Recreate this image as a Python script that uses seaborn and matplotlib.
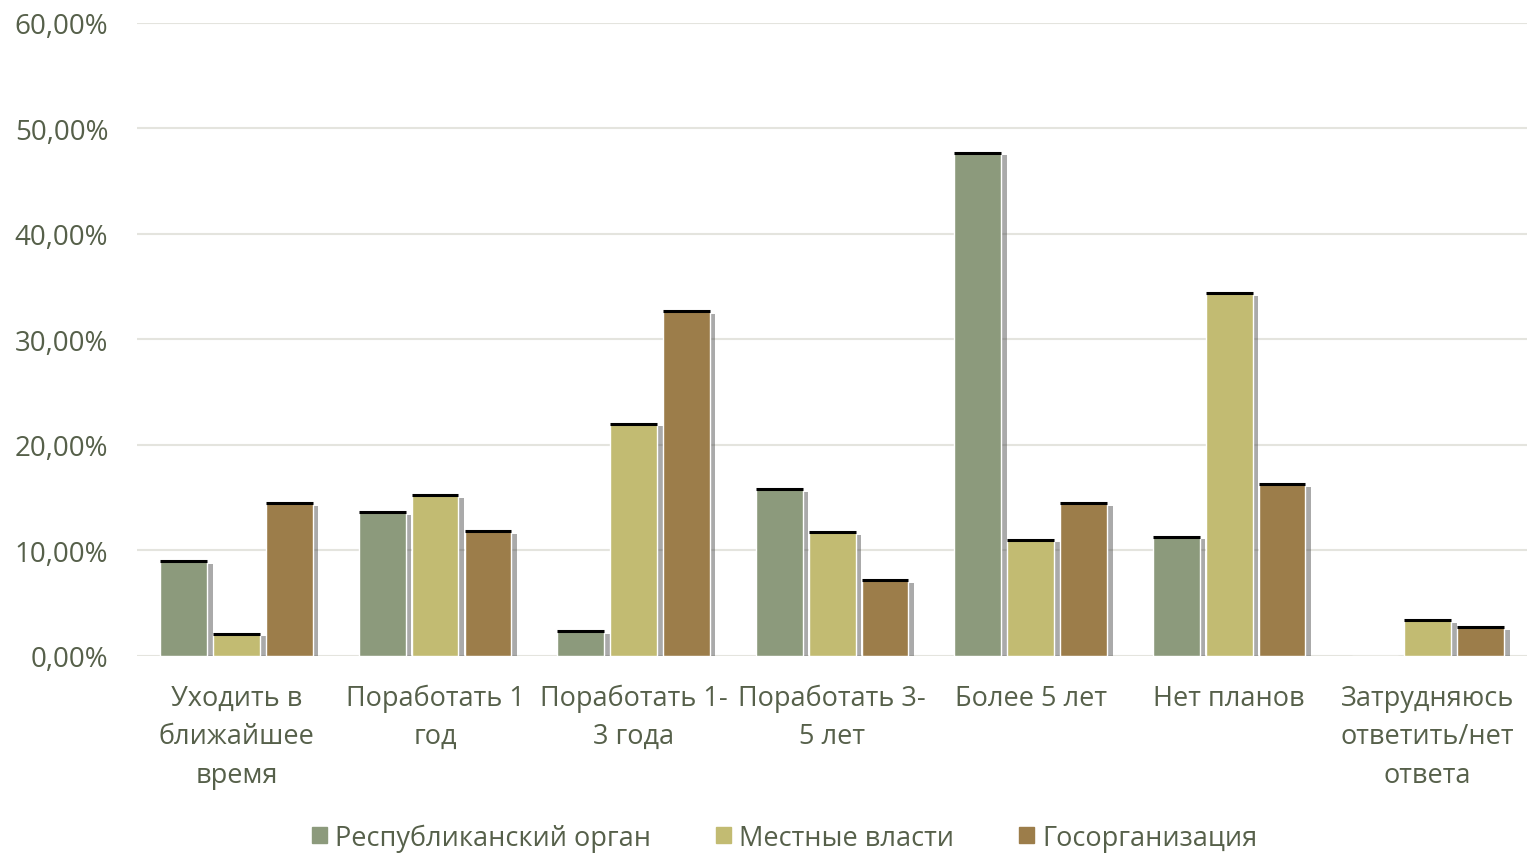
import pandas as pd
import numpy as np
import matplotlib
matplotlib.use("Agg")
import matplotlib.pyplot as plt
import matplotlib.patheffects as pe
from matplotlib.ticker import FuncFormatter
import seaborn as sns

categories = ['Уходить в\nближайшее\nвремя', 'Поработать 1\nгод', 'Поработать 1-\n3 года',
              'Поработать 3-\n5 лет', 'Более 5 лет', 'Нет планов', 'Затрудняюсь\nответить/нет\nответа']
series = ['Республиканский орган', 'Местные власти', 'Госорганизация']
resp = [9.0, 13.6, 2.3, 15.8, 47.7, 11.3, 0.0]
local = [2.1, 15.2, 22.0, 11.7, 11.0, 34.4, 3.4]
gos = [14.5, 11.8, 32.7, 7.2, 14.5, 16.3, 2.7]
colors = ['#8c9a7c', '#c2bb72', '#9c7d4a']
text_color = '#56604a'

df = pd.DataFrame({'cat': categories * 3,
                   'series': [series[0]] * 7 + [series[1]] * 7 + [series[2]] * 7,
                   'value': resp + local + gos})

sns.set_style('white')
plt.rcParams['font.family'] = ['Open Sans', 'DejaVu Sans']

fig = plt.figure(figsize=(15.27, 8.54), dpi=100)
ax = fig.add_axes([0.09, 0.231, 0.91, 0.741])

sns.barplot(data=df, x='cat', y='value', hue='series', palette=colors, order=categories,
            hue_order=series, width=0.8, gap=0.12, saturation=1, ax=ax, legend=False, zorder=3)

shadow = [pe.SimplePatchShadow(offset=(4, -2), shadow_rgbFace='#444444', alpha=0.45), pe.Normal()]
for p in ax.patches:
    p.set_path_effects(shadow)
    h = p.get_height()
    if h > 0:
        x0 = p.get_x()
        ax.plot([x0, x0 + p.get_width()], [h, h], color='black', lw=2.2,
                solid_capstyle='butt', zorder=4)

ax.set_ylim(0, 60)
ax.set_xlim(-0.5, 6.5)
ax.set_yticks(np.arange(0, 61, 10))
ax.yaxis.set_major_formatter(FuncFormatter(lambda v, _: f'{v:.2f}%'.replace('.', ',')))
ax.grid(axis='y', color='#e4e4de', lw=1.5, zorder=0)
ax.grid(axis='x', visible=False)
for s in ax.spines.values():
    s.set_visible(False)
ax.axhline(0, color='#e4e4de', lw=2, zorder=2)
ax.set_xlabel('')
ax.set_ylabel('')
ax.tick_params(axis='y', length=0, labelsize=20, colors=text_color, pad=21)
ax.tick_params(axis='x', length=0, labelsize=19.5, colors=text_color, pad=20)
for t in ax.get_xticklabels():
    t.set_linespacing(1.5)

handles = [plt.Rectangle((0, 0), 1, 1, color=c) for c in colors]
fig.legend(handles, series, loc='lower center', bbox_to_anchor=(0.514, -0.027), ncol=3,
           frameon=False, fontsize=19.5, labelcolor=text_color, handlelength=0.55,
           handleheight=0.55, handletextpad=0.3, columnspacing=2.4)

fig.savefig('out.png', dpi=100)
